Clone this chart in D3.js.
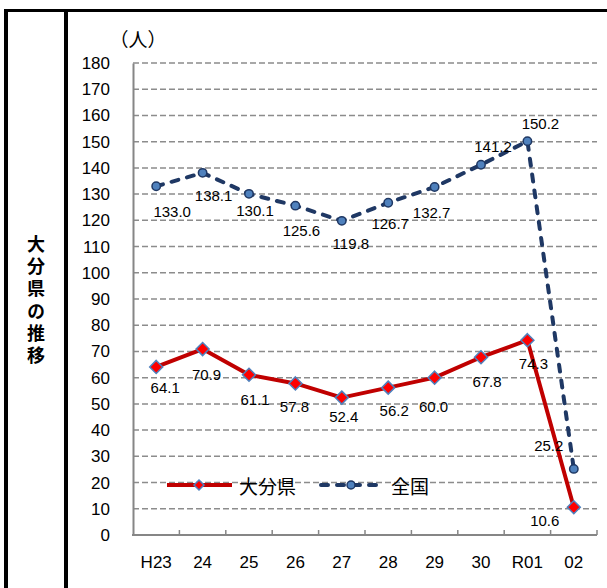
<!DOCTYPE html>
<html><head><meta charset="utf-8">
<script src="https://cdn.jsdelivr.net/npm/d3@7"></script>
<style>
html,body{margin:0;padding:0;background:#fff;}
svg{display:block;}
</style></head>
<body>
<svg id="chart" width="607" height="588"></svg>
<script>
// ---- data ----
const categories = ["H23","24","25","26","27","28","29","30","R01","02"];
const oitaValues = [64.1,70.9,61.1,57.8,52.4,56.2,60.0,67.8,74.3,10.6];
const nationalValues = [133.0,138.1,130.1,125.6,119.8,126.7,132.7,141.2,150.2,25.2];
const yTicks = [0,10,20,30,40,50,60,70,80,90,100,110,120,130,140,150,160,170,180];
const seriesNames = ["大分県","全国"];
const unitLabel = "（人）";
const sideTitle = "大分県の推移";

// ---- layout (label placement offsets, px) ----
const oitaLabelDx = [9,4,6,-1,2,6,-1,6,6,-29];
const oitaLabelDy = [21,25,25,23,19,23,29,24,23,13];
const natLabelDx = [16,11,6,6,9,2,-3,12,13,-25];
const natLabelDy = [25,23,17,25,23,21,25,-18,-18,-23];

const svg = d3.select("#chart");
const numFont = "'Liberation Sans', Arial, sans-serif";
const cjkFont = "'Noto Sans CJK JP', sans-serif";

const plotL = 133, plotR = 597, plotT = 63, plotB = 535;
const x = d3.scaleBand().domain(categories).range([plotL, plotR]);
const cx = c => x(c) + x.bandwidth()/2;
const y = d3.scaleLinear().domain([0,180]).range([plotB, plotT]);

// frame
svg.append("line").attr("x1",4).attr("x2",607).attr("y1",10.5).attr("y2",10.5).attr("stroke","#000").attr("stroke-width",3);
svg.append("line").attr("x1",6).attr("x2",6).attr("y1",9).attr("y2",588).attr("stroke","#000").attr("stroke-width",4);
svg.append("line").attr("x1",66).attr("x2",66).attr("y1",9).attr("y2",588).attr("stroke","#000").attr("stroke-width",4);

// side title (vertical)
svg.append("text")
  .attr("x",36).attr("y",235)
  .attr("writing-mode","vertical-rl")
  .style("letter-spacing","4.3px")
  .attr("font-family",cjkFont).attr("font-size",18).attr("font-weight","bold")
  .attr("fill","#000").text(sideTitle);

// gridlines
svg.append("g").selectAll("line").data(yTicks.filter(t=>t>0)).join("line")
  .attr("x1",plotL).attr("x2",plotR)
  .attr("y1",d=>y(d)).attr("y2",d=>y(d))
  .attr("stroke","#8c8c8c").attr("stroke-width",1.5).attr("stroke-dasharray","6,3");

// y axis
const yAxis = svg.append("g").attr("transform",`translate(${plotL},0)`)
  .call(d3.axisLeft(y).tickValues(yTicks).tickSize(0).tickPadding(23).tickFormat(d3.format("d")));
yAxis.select(".domain").attr("stroke","#868686").attr("stroke-width",2);
yAxis.selectAll("text").attr("font-family",numFont).attr("font-size",17).attr("fill","#000");

// x axis
const xAxis = svg.append("g").attr("transform",`translate(0,${plotB})`)
  .call(d3.axisBottom(x).tickSize(0).tickPadding(21));
xAxis.select(".domain").remove();
xAxis.selectAll("text").attr("font-family",numFont).attr("font-size",17).attr("fill","#000");
svg.append("line").attr("x1",plotL-1).attr("x2",plotR).attr("y1",plotB).attr("y2",plotB)
  .attr("stroke","#868686").attr("stroke-width",2);
const bounds = categories.slice(1).map(c=>x(c)).concat([plotR]);
svg.append("g").selectAll("line").data(bounds).join("line")
  .attr("x1",d=>d).attr("x2",d=>d).attr("y1",plotB).attr("y2",plotB-5)
  .attr("stroke","#868686").attr("stroke-width",1.5);

// unit label
svg.append("text").attr("x",138).attr("y",38).attr("text-anchor","middle")
  .attr("dominant-baseline","central").attr("font-family",cjkFont).attr("font-size",19)
  .text(unitLabel);

const lineGen = d3.line().x((d,i)=>cx(categories[i])).y(d=>y(d));

const natColor = "#1F3864", oitaColor = "#C00000";

// national series (dashed)
svg.append("path").datum(nationalValues).attr("d",lineGen)
  .attr("fill","none").attr("stroke",natColor).attr("stroke-width",4)
  .attr("stroke-dasharray","7,9").attr("stroke-linecap","round").attr("stroke-linejoin","round");
svg.append("g").selectAll("circle").data(nationalValues).join("circle")
  .attr("cx",(d,i)=>cx(categories[i])).attr("cy",d=>y(d)).attr("r",4.2)
  .attr("fill","#4F81BD").attr("stroke",natColor).attr("stroke-width",1.5);

// oita series
svg.append("path").datum(oitaValues).attr("d",lineGen)
  .attr("fill","none").attr("stroke",oitaColor).attr("stroke-width",4).attr("stroke-linejoin","round");
const diamond = (px,py,r)=>`M${px},${py-r}L${px+r},${py}L${px},${py+r}L${px-r},${py}Z`;
svg.append("g").selectAll("path").data(oitaValues).join("path")
  .attr("d",(d,i)=>diamond(cx(categories[i]),y(d),6.5))
  .attr("fill","#FF0000").attr("stroke","#4F81BD").attr("stroke-width",1.5);

// data labels
svg.append("g").selectAll("text").data(oitaValues).join("text")
  .attr("x",(d,i)=>cx(categories[i])+oitaLabelDx[i]).attr("y",(d,i)=>y(d)+oitaLabelDy[i])
  .attr("text-anchor","middle").attr("dominant-baseline","central")
  .attr("font-family",numFont).attr("font-size",15).attr("fill","#000")
  .text(d=>d.toFixed(1));
svg.append("g").selectAll("text").data(nationalValues).join("text")
  .attr("x",(d,i)=>cx(categories[i])+natLabelDx[i]).attr("y",(d,i)=>y(d)+natLabelDy[i])
  .attr("text-anchor","middle").attr("dominant-baseline","central")
  .attr("font-family",numFont).attr("font-size",15).attr("fill","#000")
  .text(d=>d.toFixed(1));

// legend
const lg = svg.append("g");
const ly = 485;
lg.append("line").attr("x1",167).attr("x2",232).attr("y1",ly).attr("y2",ly)
  .attr("stroke",oitaColor).attr("stroke-width",4);
lg.append("path").attr("d",diamond(199,ly,5)).attr("fill","#FF0000").attr("stroke","#4F81BD").attr("stroke-width",1.5);
lg.append("text").attr("x",239).attr("y",ly).attr("dominant-baseline","central")
  .attr("font-family",cjkFont).attr("font-size",19).text(seriesNames[0]);
lg.append("line").attr("x1",321).attr("x2",381).attr("y1",ly).attr("y2",ly)
  .attr("stroke",natColor).attr("stroke-width",4).attr("stroke-dasharray","7,9").attr("stroke-linecap","round");
lg.append("circle").attr("cx",351).attr("cy",ly).attr("r",4).attr("fill","#4F81BD").attr("stroke",natColor).attr("stroke-width",1.5);
lg.append("text").attr("x",391).attr("y",ly).attr("dominant-baseline","central")
  .attr("font-family",cjkFont).attr("font-size",19).text(seriesNames[1]);
</script>
</body></html>
